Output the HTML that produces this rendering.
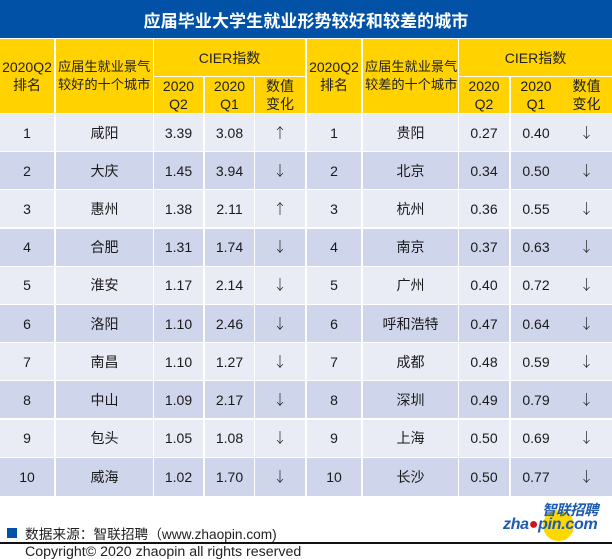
<!DOCTYPE html>
<html><head><meta charset="utf-8">
<style>
*{margin:0;padding:0;box-sizing:border-box}
html,body{width:612px;height:559px;overflow:hidden;background:#fff}
body{position:relative;font-family:"Liberation Sans","Noto Sans CJK SC",sans-serif;color:#1a1a1a}
.t{position:absolute;left:0;top:0;width:612px;height:38px;background:#0152a6;color:#fff;font-weight:bold;font-size:17px;display:flex;align-items:center;justify-content:center;letter-spacing:0.1px}
.c{position:absolute;display:flex;align-items:center;justify-content:center;text-align:center;font-size:14px;line-height:18px}
.h{background:#ffd200;color:#222}
.o{background:#e9ebf5}
.e{background:#cfd5ea}
.l{justify-content:flex-start;text-align:left;padding-left:2px;font-size:13.2px;white-space:nowrap}
.a{font-family:"Noto Sans CJK SC",sans-serif;font-size:14px;font-weight:300}
</style></head><body>
<div class="t">应届毕业大学生就业形势较好和较差的城市</div>

<!-- header left -->
<div class="c h" style="left:0;top:39px;width:54px;height:74px">2020Q2<br>排名</div>
<div class="c h l" style="left:56px;top:39px;width:97px;height:74px">应届生就业景气<br>较好的十个城市</div>
<div class="c h" style="left:154px;top:39px;width:151px;height:37px">CIER指数</div>
<div class="c h" style="left:154px;top:77px;width:49px;height:36px">2020<br>Q2</div>
<div class="c h" style="left:205px;top:77px;width:49px;height:36px">2020<br>Q1</div>
<div class="c h" style="left:255px;top:77px;width:50px;height:36px">数值<br>变化</div>
<!-- header right -->
<div class="c h" style="left:307px;top:39px;width:54px;height:74px">2020Q2<br>排名</div>
<div class="c h l" style="left:363px;top:39px;width:95px;height:74px">应届生就业景气<br>较差的十个城市</div>
<div class="c h" style="left:459px;top:39px;width:153px;height:37px">CIER指数</div>
<div class="c h" style="left:459px;top:77px;width:50px;height:36px">2020<br>Q2</div>
<div class="c h" style="left:511px;top:77px;width:101px;height:36px"></div>
<div class="c" style="left:511px;top:77px;width:50px;height:36px">2020<br>Q1</div>
<div class="c" style="left:561px;top:77px;width:51px;height:36px">数值<br>变化</div>

<!-- rows -->
<div class="c o" style="left:0;top:114px;width:54px;height:37px">1</div><div class="c o" style="left:56px;top:114px;width:97px;height:37px">咸阳</div><div class="c o" style="left:154px;top:114px;width:49px;height:37px">3.39</div><div class="c o" style="left:205px;top:114px;width:49px;height:37px">3.08</div><div class="c o a" style="left:255px;top:114px;width:50px;height:37px">↑</div><div class="c o" style="left:307px;top:114px;width:54px;height:37px">1</div><div class="c o" style="left:363px;top:114px;width:95px;height:37px">贵阳</div><div class="c o" style="left:459px;top:114px;width:50px;height:37px">0.27</div><div class="c o" style="left:511px;top:114px;width:101px;height:37px"></div><div class="c" style="left:511px;top:114px;width:50px;height:37px">0.40</div><div class="c a" style="left:561px;top:114px;width:51px;height:37px">↓</div>

<div class="c e" style="left:0;top:152.2px;width:54px;height:37px">2</div><div class="c e" style="left:56px;top:152.2px;width:97px;height:37px">大庆</div><div class="c e" style="left:154px;top:152.2px;width:49px;height:37px">1.45</div><div class="c e" style="left:205px;top:152.2px;width:49px;height:37px">3.94</div><div class="c e a" style="left:255px;top:152.2px;width:50px;height:37px">↓</div><div class="c e" style="left:307px;top:152.2px;width:54px;height:37px">2</div><div class="c e" style="left:363px;top:152.2px;width:95px;height:37px">北京</div><div class="c e" style="left:459px;top:152.2px;width:50px;height:37px">0.34</div><div class="c e" style="left:511px;top:152.2px;width:101px;height:37px"></div><div class="c" style="left:511px;top:152.2px;width:50px;height:37px">0.50</div><div class="c a" style="left:561px;top:152.2px;width:51px;height:37px">↓</div>

<div class="c o" style="left:0;top:190.4px;width:54px;height:37px">3</div><div class="c o" style="left:56px;top:190.4px;width:97px;height:37px">惠州</div><div class="c o" style="left:154px;top:190.4px;width:49px;height:37px">1.38</div><div class="c o" style="left:205px;top:190.4px;width:49px;height:37px">2.11</div><div class="c o a" style="left:255px;top:190.4px;width:50px;height:37px">↑</div><div class="c o" style="left:307px;top:190.4px;width:54px;height:37px">3</div><div class="c o" style="left:363px;top:190.4px;width:95px;height:37px">杭州</div><div class="c o" style="left:459px;top:190.4px;width:50px;height:37px">0.36</div><div class="c o" style="left:511px;top:190.4px;width:101px;height:37px"></div><div class="c" style="left:511px;top:190.4px;width:50px;height:37px">0.55</div><div class="c a" style="left:561px;top:190.4px;width:51px;height:37px">↓</div>

<div class="c e" style="left:0;top:228.6px;width:54px;height:37px">4</div><div class="c e" style="left:56px;top:228.6px;width:97px;height:37px">合肥</div><div class="c e" style="left:154px;top:228.6px;width:49px;height:37px">1.31</div><div class="c e" style="left:205px;top:228.6px;width:49px;height:37px">1.74</div><div class="c e a" style="left:255px;top:228.6px;width:50px;height:37px">↓</div><div class="c e" style="left:307px;top:228.6px;width:54px;height:37px">4</div><div class="c e" style="left:363px;top:228.6px;width:95px;height:37px">南京</div><div class="c e" style="left:459px;top:228.6px;width:50px;height:37px">0.37</div><div class="c e" style="left:511px;top:228.6px;width:101px;height:37px"></div><div class="c" style="left:511px;top:228.6px;width:50px;height:37px">0.63</div><div class="c a" style="left:561px;top:228.6px;width:51px;height:37px">↓</div>

<div class="c o" style="left:0;top:266.8px;width:54px;height:37px">5</div><div class="c o" style="left:56px;top:266.8px;width:97px;height:37px">淮安</div><div class="c o" style="left:154px;top:266.8px;width:49px;height:37px">1.17</div><div class="c o" style="left:205px;top:266.8px;width:49px;height:37px">2.14</div><div class="c o a" style="left:255px;top:266.8px;width:50px;height:37px">↓</div><div class="c o" style="left:307px;top:266.8px;width:54px;height:37px">5</div><div class="c o" style="left:363px;top:266.8px;width:95px;height:37px">广州</div><div class="c o" style="left:459px;top:266.8px;width:50px;height:37px">0.40</div><div class="c o" style="left:511px;top:266.8px;width:101px;height:37px"></div><div class="c" style="left:511px;top:266.8px;width:50px;height:37px">0.72</div><div class="c a" style="left:561px;top:266.8px;width:51px;height:37px">↓</div>

<div class="c e" style="left:0;top:305px;width:54px;height:37px">6</div><div class="c e" style="left:56px;top:305px;width:97px;height:37px">洛阳</div><div class="c e" style="left:154px;top:305px;width:49px;height:37px">1.10</div><div class="c e" style="left:205px;top:305px;width:49px;height:37px">2.46</div><div class="c e a" style="left:255px;top:305px;width:50px;height:37px">↓</div><div class="c e" style="left:307px;top:305px;width:54px;height:37px">6</div><div class="c e" style="left:363px;top:305px;width:95px;height:37px">呼和浩特</div><div class="c e" style="left:459px;top:305px;width:50px;height:37px">0.47</div><div class="c e" style="left:511px;top:305px;width:101px;height:37px"></div><div class="c" style="left:511px;top:305px;width:50px;height:37px">0.64</div><div class="c a" style="left:561px;top:305px;width:51px;height:37px">↓</div>

<div class="c o" style="left:0;top:343.2px;width:54px;height:37px">7</div><div class="c o" style="left:56px;top:343.2px;width:97px;height:37px">南昌</div><div class="c o" style="left:154px;top:343.2px;width:49px;height:37px">1.10</div><div class="c o" style="left:205px;top:343.2px;width:49px;height:37px">1.27</div><div class="c o a" style="left:255px;top:343.2px;width:50px;height:37px">↓</div><div class="c o" style="left:307px;top:343.2px;width:54px;height:37px">7</div><div class="c o" style="left:363px;top:343.2px;width:95px;height:37px">成都</div><div class="c o" style="left:459px;top:343.2px;width:50px;height:37px">0.48</div><div class="c o" style="left:511px;top:343.2px;width:101px;height:37px"></div><div class="c" style="left:511px;top:343.2px;width:50px;height:37px">0.59</div><div class="c a" style="left:561px;top:343.2px;width:51px;height:37px">↓</div>

<div class="c e" style="left:0;top:381.4px;width:54px;height:37px">8</div><div class="c e" style="left:56px;top:381.4px;width:97px;height:37px">中山</div><div class="c e" style="left:154px;top:381.4px;width:49px;height:37px">1.09</div><div class="c e" style="left:205px;top:381.4px;width:49px;height:37px">2.17</div><div class="c e a" style="left:255px;top:381.4px;width:50px;height:37px">↓</div><div class="c e" style="left:307px;top:381.4px;width:54px;height:37px">8</div><div class="c e" style="left:363px;top:381.4px;width:95px;height:37px">深圳</div><div class="c e" style="left:459px;top:381.4px;width:50px;height:37px">0.49</div><div class="c e" style="left:511px;top:381.4px;width:101px;height:37px"></div><div class="c" style="left:511px;top:381.4px;width:50px;height:37px">0.79</div><div class="c a" style="left:561px;top:381.4px;width:51px;height:37px">↓</div>

<div class="c o" style="left:0;top:419.6px;width:54px;height:37px">9</div><div class="c o" style="left:56px;top:419.6px;width:97px;height:37px">包头</div><div class="c o" style="left:154px;top:419.6px;width:49px;height:37px">1.05</div><div class="c o" style="left:205px;top:419.6px;width:49px;height:37px">1.08</div><div class="c o a" style="left:255px;top:419.6px;width:50px;height:37px">↓</div><div class="c o" style="left:307px;top:419.6px;width:54px;height:37px">9</div><div class="c o" style="left:363px;top:419.6px;width:95px;height:37px">上海</div><div class="c o" style="left:459px;top:419.6px;width:50px;height:37px">0.50</div><div class="c o" style="left:511px;top:419.6px;width:101px;height:37px"></div><div class="c" style="left:511px;top:419.6px;width:50px;height:37px">0.69</div><div class="c a" style="left:561px;top:419.6px;width:51px;height:37px">↓</div>

<div class="c e" style="left:0;top:457.8px;width:54px;height:38px">10</div><div class="c e" style="left:56px;top:457.8px;width:97px;height:38px">威海</div><div class="c e" style="left:154px;top:457.8px;width:49px;height:38px">1.02</div><div class="c e" style="left:205px;top:457.8px;width:49px;height:38px">1.70</div><div class="c e a" style="left:255px;top:457.8px;width:50px;height:38px">↓</div><div class="c e" style="left:307px;top:457.8px;width:54px;height:38px">10</div><div class="c e" style="left:363px;top:457.8px;width:95px;height:38px">长沙</div><div class="c e" style="left:459px;top:457.8px;width:50px;height:38px">0.50</div><div class="c e" style="left:511px;top:457.8px;width:101px;height:38px"></div><div class="c" style="left:511px;top:457.8px;width:50px;height:38px">0.77</div><div class="c a" style="left:561px;top:457.8px;width:51px;height:38px">↓</div>

<!-- footer -->
<div style="position:absolute;left:7px;top:528px;width:10px;height:10px;background:#0152a6"></div>
<div style="position:absolute;left:25px;top:526px;font-size:13.7px;line-height:18px;white-space:nowrap;color:#222">数据来源：智联招聘（www.zhaopin.com)</div>
<div style="position:absolute;left:0;top:542px;width:612px;height:1.5px;background:#111"></div>
<div style="position:absolute;left:25px;top:543px;font-size:14.2px;line-height:18px;white-space:nowrap;color:#222">Copyright© 2020 zhaopin all rights reserved</div>

<!-- logo -->
<div style="position:absolute;left:543px;top:510px;width:31px;height:31px;border-radius:50%;background:#ffd800"></div>
<div style="position:absolute;left:542px;top:503px;font-size:14.5px;line-height:16px;font-weight:bold;font-style:italic;color:#1d5bb0;white-space:nowrap;letter-spacing:-0.5px">智联招聘</div>
<div style="position:absolute;left:503px;top:516px;font-size:16px;line-height:18px;font-weight:bold;font-style:italic;color:#1d5bb0;white-space:nowrap;letter-spacing:-0.3px">zha<span style="color:#d0141e">●</span>pin.com</div>
</body></html>
